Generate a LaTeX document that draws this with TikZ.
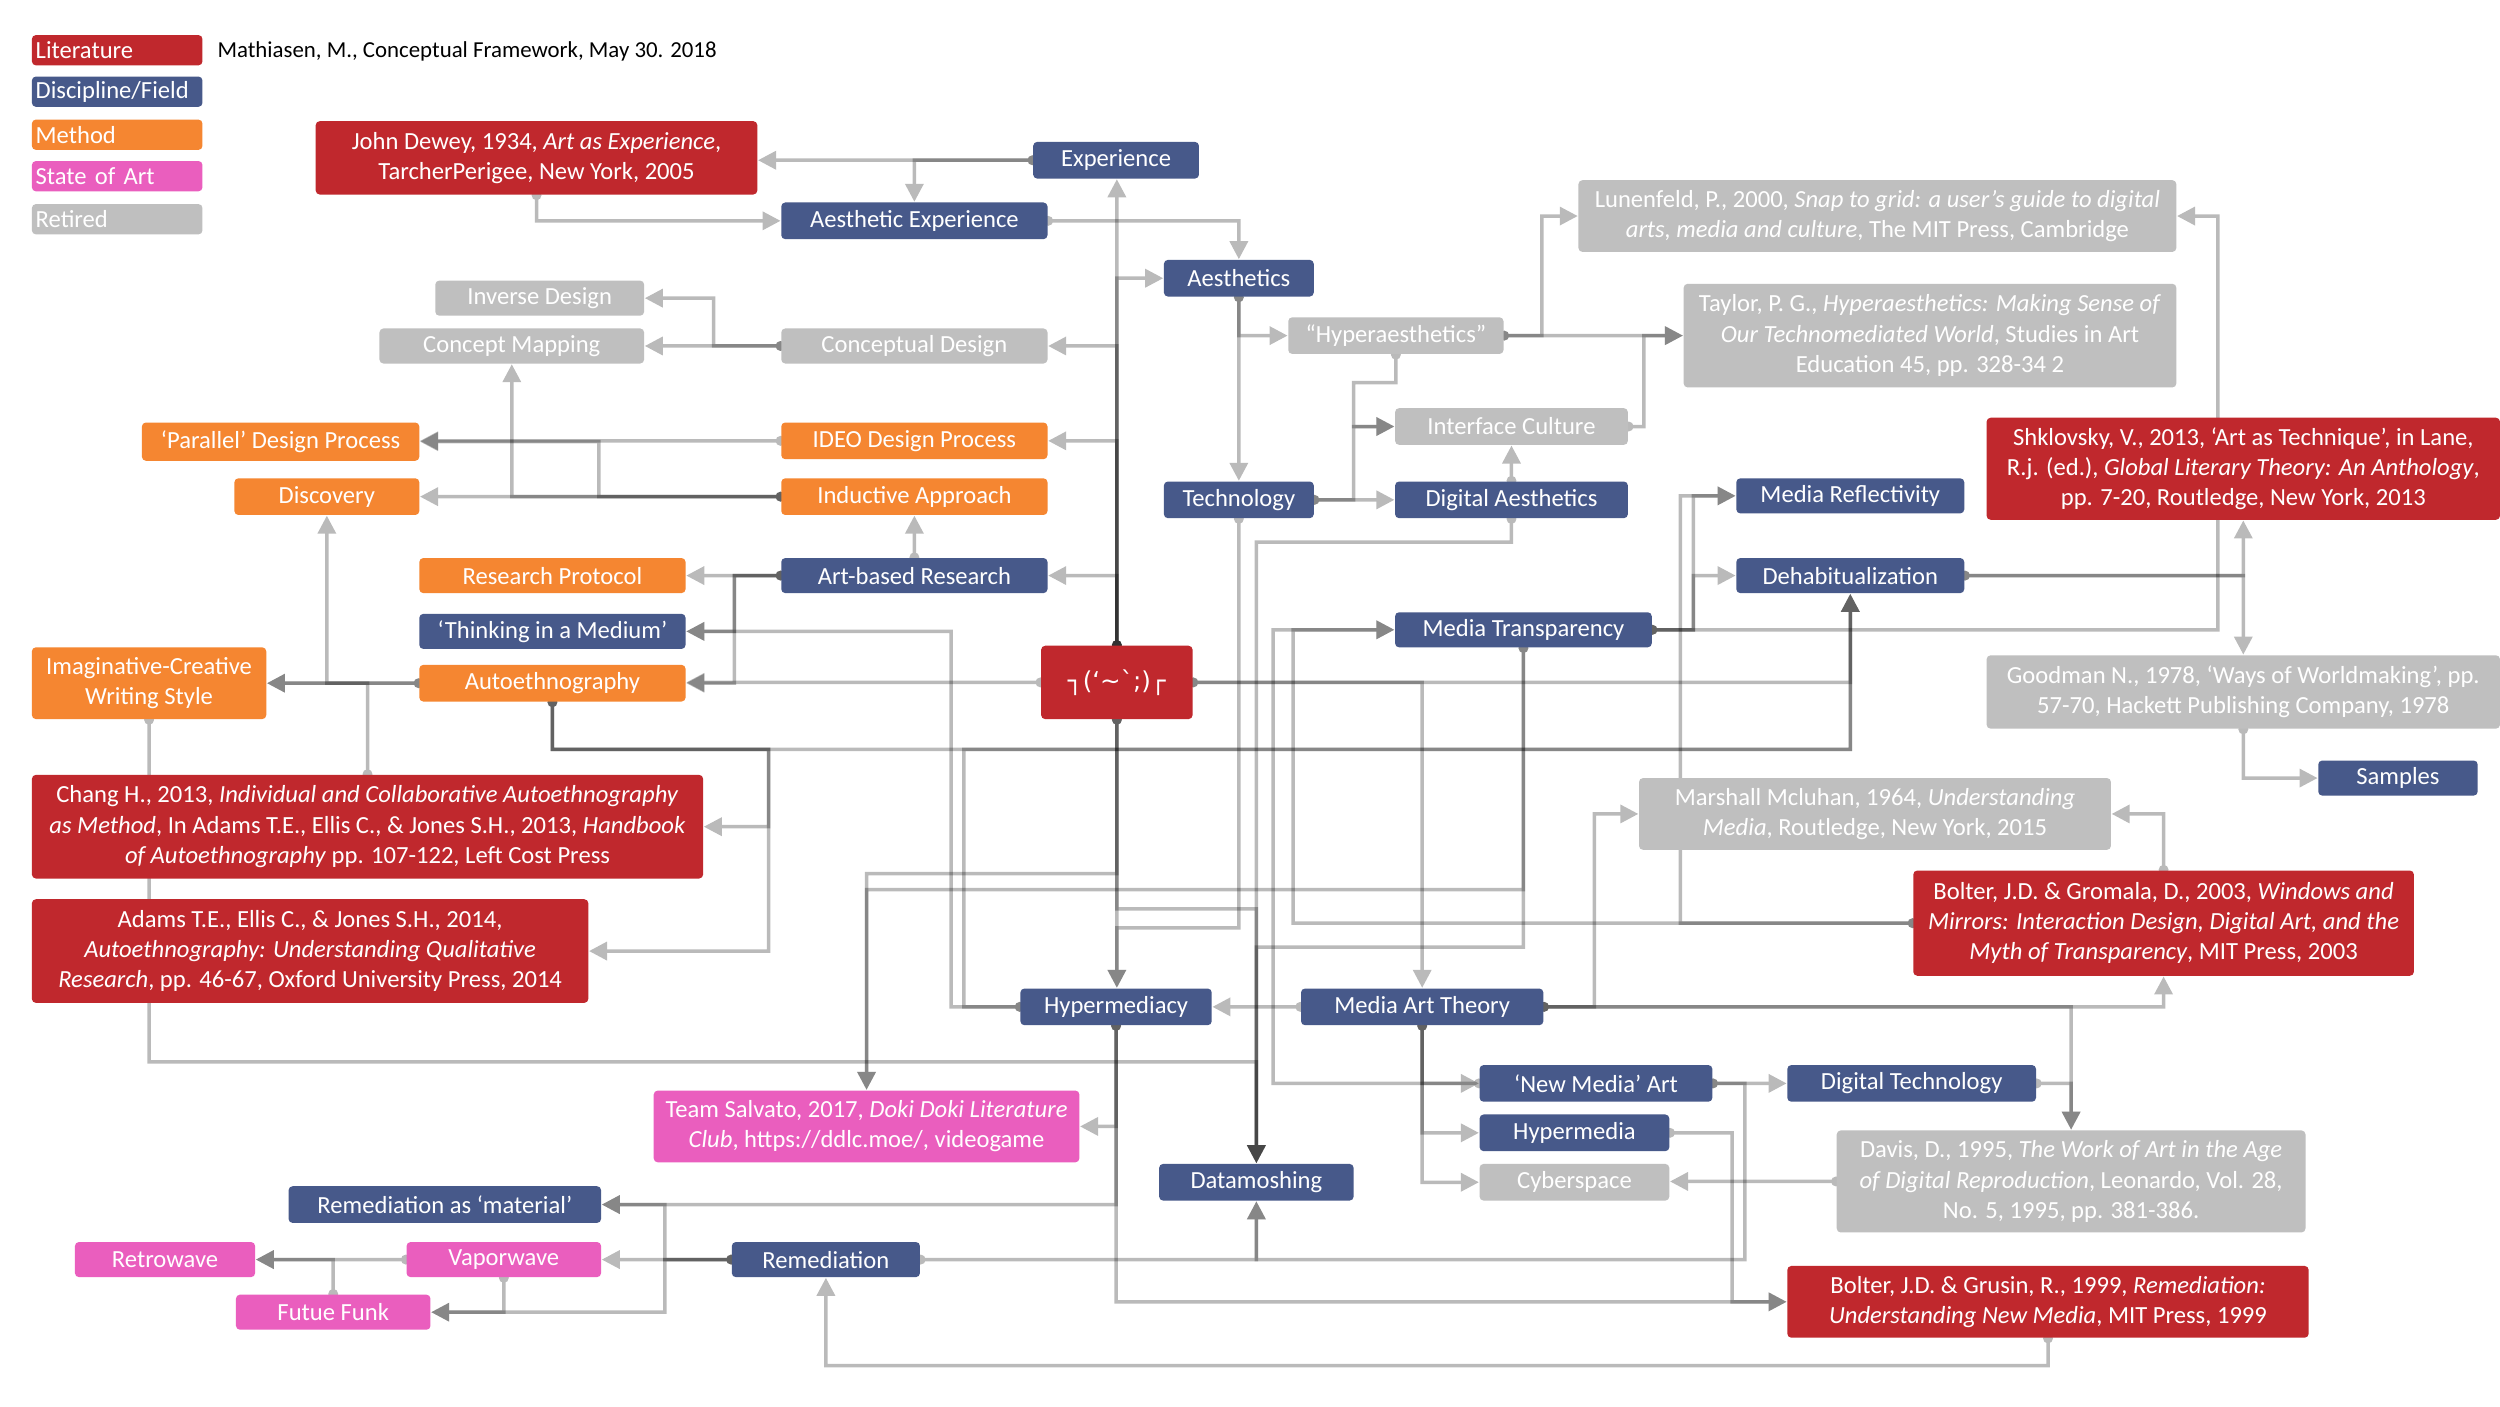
\documentclass[tikz,border=0pt]{standalone}
\usepackage{fontspec}
\setmainfont{Carlito}
\newfontfamily\kaofont{DejaVu Sans}
\usetikzlibrary{arrows.meta,backgrounds}
\definecolor{cRed}{HTML}{C0282D}
\definecolor{cBlue}{HTML}{47598A}
\definecolor{cOrange}{HTML}{F58631}
\definecolor{cPink}{HTML}{EA5EBE}
\definecolor{cGray}{HTML}{BFBFBF}
\newcommand\nodefont{\fontsize{7}{8.6}\selectfont}
\tikzset{
  bx/.style={fill=#1, draw=none, text=white, inner sep=0pt, align=center, font=\nodefont, rounded corners=0.4mm},
  lg/.style={bx=#1, text width=16.3mm, align=left},
  ln/.style={line width=0.35mm, draw=black, -{Triangle[length=1.8mm,width=1.8mm]}},
}
\newcommand\nd[7]{\node[bx=#1, minimum width={(#5-#3)*0.15944mm}, minimum height={(#6-#4)*0.15944mm}] (#2) at ({(#3+#5)/2},{(#4+#6)/2}) {#7};}
\newcommand\lgd[4]{\node[lg=#1, minimum width={107*0.15944mm}, minimum height={19*0.15944mm}] (#2) at (73.5,#3) {#4};}
\newcommand\cn[2]{\begin{scope}[transparency group, opacity=0.27]\fill (#1) circle[radius=0.5mm]; \draw[ln] (#1) #2;\end{scope}}
\begin{document}
\begin{tikzpicture}[x=0.15944mm, y=-0.15944mm]
\useasboundingbox (0,0) rectangle (1568,882);
% legend
\lgd{cRed}{lit}{31.5}{Literature}
\lgd{cBlue}{dis}{57.5}{Discipline/Field}
\lgd{cOrange}{met}{84.5}{Method}
\lgd{cPink}{soa}{110.5}{State of Art}
\lgd{cGray}{ret}{137.5}{Retired}
\node[anchor=west, inner sep=0pt, font=\fontsize{6.5}{8}\selectfont] (title) at (136,32) {Mathiasen, M., Conceptual Framework, May 30. 2018};
% nodes
\nd{cRed}{dewey}{198}{76}{475}{122}{John Dewey, 1934, \textit{Art as Experience},\\TarcherPerigee, New York, 2005}
\nd{cBlue}{experience}{648}{89}{752}{112}{Experience}
\nd{cBlue}{aesexp}{490}{127}{657}{150}{Aesthetic Experience}
\nd{cBlue}{aesthetics}{730}{163}{824}{186}{Aesthetics}
\nd{cGray}{lunenfeld}{990}{113}{1365}{158}{Lunenfeld, P., 2000, \textit{Snap to grid: a user’s guide to digital}\\\textit{arts, media and culture}, The MIT Press, Cambridge}
\nd{cGray}{taylor}{1056}{178}{1365}{243}{Taylor, P. G., \textit{Hyperaesthetics: Making Sense of}\\\textit{Our Technomediated World}, Studies in Art\\Education 45, pp. 328-34 2}
\nd{cGray}{hyper}{808}{199}{943}{222}{“Hyperaesthetics”}
\nd{cGray}{inverse}{273}{176}{404}{198}{Inverse Design}
\nd{cGray}{conceptmap}{238}{206}{404}{228}{Concept Mapping}
\nd{cGray}{conceptdes}{490}{206}{657}{228}{Conceptual Design}
\nd{cOrange}{parallel}{89}{265}{263}{289}{‘Parallel’ Design Process}
\nd{cOrange}{ideo}{490}{265}{657}{288}{IDEO Design Process}
\nd{cOrange}{discovery}{147}{300}{263}{323}{Discovery}
\nd{cOrange}{inductive}{490}{300}{657}{323}{Inductive Approach}
\nd{cGray}{interface}{875}{256}{1021}{279}{Interface Culture}
\nd{cBlue}{technology}{730}{302}{824}{325}{Technology}
\nd{cBlue}{digaes}{875}{302}{1021}{325}{Digital Aesthetics}
\nd{cRed}{shklovsky}{1246}{262}{1568}{326}{Shklovsky, V., 2013, ‘Art as Technique’, in Lane,\\R.j. (ed.), \textit{Global Literary Theory: An Anthology},\\pp. 7-20, Routledge, New York, 2013}
\nd{cBlue}{mediarefl}{1089}{300}{1232}{322}{Media Reflectivity}
\nd{cBlue}{dehab}{1089}{350}{1232}{372}{Dehabitualization}
\nd{cOrange}{resprot}{263}{350}{430}{372}{Research Protocol}
\nd{cBlue}{artbased}{490}{350}{657}{372}{Art-based Research}
\nd{cBlue}{thinking}{263}{385}{430}{407}{‘Thinking in a Medium’}
\nd{cBlue}{mediatrans}{875}{384}{1036}{406}{Media Transparency}
\node[bx=cRed, minimum width={95*0.15944mm}, minimum height={46*0.15944mm}, font=\kaofont\fontsize{7}{9}\selectfont] (emoji) at (700.5,428) {┐(‘∼\char"60;)┌};
\nd{cGray}{goodman}{1246}{411}{1568}{457}{Goodman N., 1978, ‘Ways of Worldmaking’, pp.\\57-70, Hackett Publishing Company, 1978}
\nd{cOrange}{imaginative}{20}{406}{167}{451}{Imaginative-Creative\\Writing Style}
\nd{cOrange}{autoeth}{263}{417}{430}{440}{Autoethnography}
\nd{cBlue}{samples}{1454}{477}{1554}{499}{Samples}
\nd{cRed}{chang}{20}{486}{441}{551}{Chang H., 2013, \textit{Individual and Collaborative Autoethnography}\\\textit{as Method}, In Adams T.E., Ellis C., \& Jones S.H., 2013, \textit{Handbook}\\\textit{of Autoethnography} pp. 107-122, Left Cost Press}
\nd{cGray}{mcluhan}{1028}{488}{1324}{533}{Marshall Mcluhan, 1964, \textit{Understanding}\\\textit{Media}, Routledge, New York, 2015}
\nd{cRed}{bolterG}{1200}{546}{1514}{612}{Bolter, J.D. \& Gromala, D., 2003, \textit{Windows and}\\\textit{Mirrors: Interaction Design, Digital Art, and the}\\\textit{Myth of Transparency}, MIT Press, 2003}
\nd{cRed}{adams}{20}{564}{369}{629}{Adams T.E., Ellis C., \& Jones S.H., 2014,\\\textit{Autoethnography: Understanding Qualitative}\\\textit{Research}, pp. 46-67, Oxford University Press, 2014}
\nd{cBlue}{hypermediacy}{640}{620}{760}{643}{Hypermediacy}
\nd{cBlue}{mediaart}{816}{620}{968}{643}{Media Art Theory}
\nd{cPink}{ddlc}{410}{684}{677}{729}{Team Salvato, 2017, \textit{Doki Doki Literature}\\\textit{Club}, https://ddlc.moe/, videogame}
\nd{cBlue}{newmedia}{928}{668}{1074}{691}{‘New Media’ Art}
\nd{cBlue}{digtech}{1121}{668}{1277}{691}{Digital Technology}
\nd{cBlue}{hypermedia}{928}{699}{1047}{722}{Hypermedia}
\nd{cGray}{cyberspace}{928}{730}{1047}{753}{Cyberspace}
\nd{cGray}{davis}{1152}{709}{1446}{773}{Davis, D., 1995, \textit{The Work of Art in the Age}\\\textit{of Digital Reproduction}, Leonardo, Vol. 28,\\No. 5, 1995, pp. 381-386.}
\nd{cBlue}{datamosh}{727}{730}{849}{753}{Datamoshing}
\nd{cBlue}{remmat}{181}{744}{377}{767}{Remediation as ‘material’}
\nd{cPink}{retrowave}{47}{779}{160}{801}{Retrowave}
\nd{cPink}{vaporwave}{255}{779}{377}{801}{Vaporwave}
\nd{cBlue}{remediation}{459}{779}{577}{801}{Remediation}
\nd{cPink}{futue}{148}{812}{270}{834}{Futue Funk}
\nd{cRed}{bolterR}{1121}{794}{1448}{839}{Bolter, J.D. \& Grusin, R., 1999, \textit{Remediation:}\\\textit{Understanding New Media}, MIT Press, 1999}
% connectors
\begin{pgfonlayer}{background}
\fill[white] (0,0) rectangle (1568,882);
\cn{experience.west}{-- (experience.west -| dewey.east)}
\cn{experience.west}{-| (aesexp.north)}
\cn{dewey.south}{|- (aesexp.west)}
\cn{aesexp.east}{-| (aesthetics.north)}
\cn{emoji.north}{-- (emoji.north |- experience.south)}
\cn{emoji.north}{|- (aesthetics.west)}
\cn{emoji.north}{|- (conceptdes.east)}
\cn{emoji.north}{|- (ideo.east)}
\cn{emoji.north}{|- (artbased.east)}
\cn{aesthetics.south}{|- (hyper.west)}
\cn{aesthetics.south}{-- (technology.north)}
\cn{conceptdes.west}{-- (conceptmap.east)}
\cn{conceptdes.west}{-- ++(-42,0) |- (inverse.east)}
\cn{ideo.west}{-- (ideo.west -| parallel.east)}
\cn{inductive.west}{-- (discovery.east)}
\cn{inductive.west}{-| (conceptmap.south)}
\cn{inductive.west}{-- ++(-114,0) |- (parallel.east)}
\cn{artbased.north}{-- (inductive.south)}
\cn{artbased.west}{-- (resprot.east)}
\cn{artbased.west}{-- ++(-29,0) |- (thinking.east)}
\cn{artbased.west}{-- ++(-29,0) |- (autoeth.east)}
\cn{emoji.west}{-- (emoji.west -| autoeth.east)}
\cn{autoeth.west}{-- (autoeth.west -| imaginative.east)}
\cn{autoeth.west}{-| (discovery.south)}
\cn{chang.north}{|- (imaginative.east)}
\cn{autoeth.south}{|- (482,470) |- (chang.east)}
\cn{autoeth.south}{|- (482,470) |- (adams.east)}
\cn{autoeth.south}{|- (1160.5,470) -- (dehab.south)}
\cn{hypermediacy.west}{-- ++(-43,0) |- (thinking.east)}
\cn{hypermediacy.west}{-- ++(-35,0) |- (1160.5,470) -- (dehab.south)}
\cn{emoji.east}{-| (mediaart.north)}
\cn{emoji.east}{-| (dehab.south)}
\cn{imaginative.south}{|- (788,666) -- (datamosh.north)}
\cn{emoji.south}{|- (788,570) -- (datamosh.north)}
\cn{mediatrans.south}{|- (788,594) -- (datamosh.north)}
\cn{digaes.south}{|- (788,340) -- (datamosh.north)}
\cn{emoji.south}{-- (emoji.south |- hypermediacy.north)}
\cn{emoji.south}{|- (543.5,548) -- (ddlc.north)}
\cn{mediatrans.south}{|- (543.5,558) -- (ddlc.north)}
\cn{technology.south}{|- (700.5,582) -- (emoji.south |- hypermediacy.north)}
\cn{newmedia.west}{-- ++(-129,0) |- (mediatrans.west)}
\cn{bolterG.west}{-- (1054,579) |- (mediarefl.west)}
\cn{bolterG.west}{-- (811,579) |- (mediatrans.west)}
\cn{mediatrans.east}{-- (1062,395) |- (mediarefl.west)}
\cn{mediatrans.east}{-- (1062,395) |- (dehab.west)}
\cn{mediatrans.east}{-| (1391,135.5) -- (lunenfeld.east)}
\cn{mediaart.west}{-- (hypermediacy.east)}
\cn{mediaart.south}{|- (newmedia.west)}
\cn{mediaart.south}{|- (hypermedia.west)}
\cn{mediaart.south}{|- (cyberspace.west)}
\cn{mediaart.east}{-| (davis.north)}
\cn{mediaart.east}{-| (bolterG.south)}
\cn{mediaart.east}{-- (1000,631.5) |- (mcluhan.west)}
\cn{digtech.east}{-| (davis.north)}
\cn{newmedia.east}{-- (digtech.west)}
\cn{newmedia.east}{-- ++(20,0) |- (788,790) -- (datamosh.south)}
\cn{remediation.east}{-- (788,790) -- (datamosh.south)}
\cn{hypermedia.east}{-- ++(39,0) |- (bolterR.west)}
\cn{hypermediacy.south}{|- (bolterR.west)}
\cn{hypermediacy.south}{|- (ddlc.east)}
\cn{hypermediacy.south}{|- (remmat.east)}
\cn{davis.west}{-- (davis.west -| cyberspace.east)}
\cn{bolterR.south}{-- ++(0,17) -| (remediation.south)}
\cn{remediation.west}{-- (417,790) |- (remmat.east)}
\cn{remediation.west}{-- (vaporwave.east)}
\cn{remediation.west}{-- (417,790) |- (futue.east)}
\cn{vaporwave.south}{|- (futue.east)}
\cn{vaporwave.west}{-- (retrowave.east)}
\cn{futue.north}{|- (retrowave.east)}
\cn{hyper.east}{-- (hyper.east -| taylor.west)}
\cn{hyper.east}{-- (967,210.5) |- (lunenfeld.west)}
\cn{interface.east}{-- (1031,267.5) |- (taylor.west)}
\cn{hyper.south}{|- (849,240) |- (interface.west)}
\cn{technology.east}{-- (849,313.5) |- (interface.west)}
\cn{technology.east}{-- (digaes.west)}
\cn{digaes.north}{-- (interface.south)}
\cn{dehab.east}{-| (shklovsky.south)}
\cn{dehab.east}{-| (goodman.north)}
\cn{goodman.south}{|- (samples.west)}
\cn{bolterG.north}{|- (mcluhan.east)}
\end{pgfonlayer}
\end{tikzpicture}
\end{document}
